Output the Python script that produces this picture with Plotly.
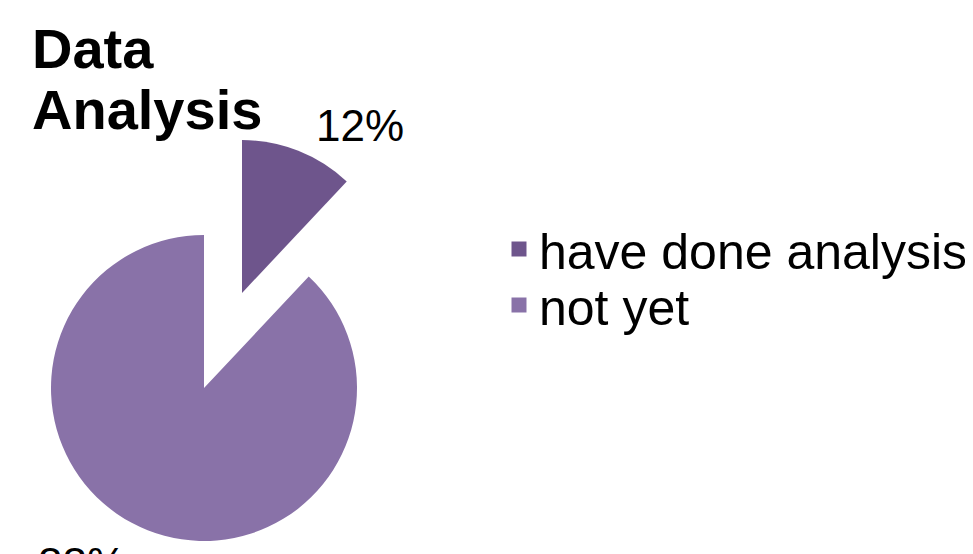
import plotly.graph_objects as go

categories = ["have done analysis", "not yet"]
values = [12, 88]
colors = ["#6E558C", "#8972A8"]
title_lines = ["Data", "Analysis"]

W, H = 973, 554
OFF = 8  # page body margin
R = 153
BIG_C = (204, 388)
SMALL_C = (242, 293)
FONT = "Liberation Sans, Arial, sans-serif"
CLEAR = "rgba(0,0,0,0)"


def px(x):
    return (x - OFF) / W


def py(y):
    return 1 - (y - OFF) / H


def domain(center):
    cx, cy = center
    return dict(x=[px(cx - R), px(cx + R)], y=[py(cy + R), py(cy - R)])


fig = go.Figure()

# main (not pulled) part
fig.add_trace(go.Pie(
    labels=categories, values=values, sort=False, direction="clockwise", rotation=0,
    marker=dict(colors=[CLEAR, colors[1]], line=dict(width=0)),
    textinfo="none", hoverinfo="label+percent", showlegend=False,
    domain=domain(BIG_C),
))
# exploded slice
fig.add_trace(go.Pie(
    labels=categories, values=values, sort=False, direction="clockwise", rotation=0,
    marker=dict(colors=[colors[0], CLEAR], line=dict(width=0)),
    textinfo="none", hoverinfo="label+percent", showlegend=False,
    domain=domain(SMALL_C),
))

# legend entries (one legend per row for tight row spacing)
legend_ids = ["legend", "legend2"]
for name, col, lg in zip(categories, colors, legend_ids):
    fig.add_trace(go.Scatter(
        x=[None], y=[None], mode="markers", name=name, legend=lg,
        marker=dict(symbol="square", size=15, color=col),
        showlegend=True,
    ))

total = sum(values)
pcts = [f"{round(v / total * 100)}%" for v in values]


def ann(text, x, y, size, xanchor="left"):
    return dict(text=text, x=px(x), y=py(y), xref="paper", yref="paper",
                xanchor=xanchor, yanchor="middle", showarrow=False,
                font=dict(family=FONT, size=size, color="black"))


annotations = [
    ann("<b>" + title_lines[0] + "</b>", 30, 48, 56),
    ann("<b>" + title_lines[1] + "</b>", 30, 110, 56),
    ann(pcts[0], 360, 125, 44, "center"),
    ann(pcts[1], 82, 563, 44, "center"),
]

legend_style = dict(xanchor="left", yanchor="top",
                    font=dict(family=FONT, size=50, color="black"),
                    bgcolor="rgba(0,0,0,0)", itemwidth=30)

fig.update_layout(
    width=W, height=H,
    margin=dict(l=0, r=0, t=0, b=0),
    paper_bgcolor="white", plot_bgcolor="white",
    xaxis=dict(visible=False), yaxis=dict(visible=False),
    legend=dict(x=px(499), y=py(210), **legend_style),
    legend2=dict(x=px(499), y=py(266), **legend_style),
    annotations=annotations,
    showlegend=True,
)

fig.write_html("out.html")
